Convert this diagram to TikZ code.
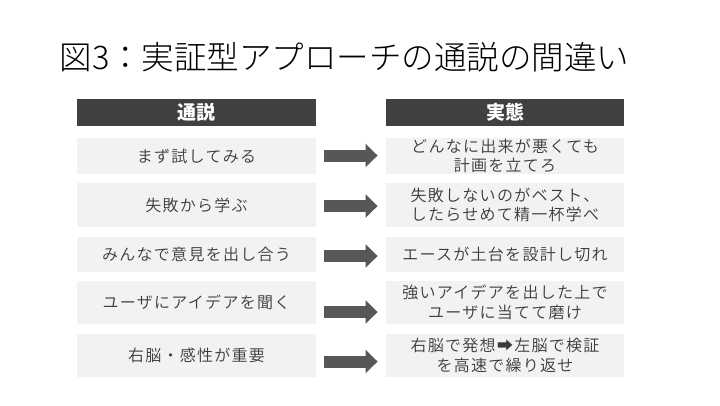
\documentclass[tikz,border=0pt]{standalone}
\usepackage{fontspec}
\setmainfont{Noto Sans CJK JP}
\newfontfamily\titlefont{Noto Sans CJK JP Light}
\newfontfamily\cellfont{Noto Sans CJK JP DemiLight}[LetterSpace=8]
\usetikzlibrary{positioning, arrows.meta, calc}
\definecolor{hdrgray}{HTML}{404040}
\definecolor{boxgray}{HTML}{F2F2F2}
\definecolor{arrgray}{HTML}{575757}
\definecolor{txtgray}{HTML}{3A3A3A}
\tikzset{
  header/.style={fill=hdrgray, text=white, inner sep=0pt,
    minimum width=238.5pt, minimum height=27pt,
    font=\fontsize{19}{22}\selectfont\bfseries},
  cell/.style={fill=boxgray, text=txtgray, inner sep=0pt, align=center,
    minimum width=238.5pt, font=\cellfont\fontsize{16}{19.5}\selectfont},
  bigarrow/.style={draw=arrgray, line width=12pt,
    -{Triangle[length=12pt, width=23pt]}},
}

\begin{document}
\begin{tikzpicture}[x=1pt, y=-1pt]
  \useasboundingbox (0,0) rectangle (720,405);
  \fill[white] (0,0) rectangle (720,405);

  \node[anchor=west, font=\titlefont\fontsize{32.5}{36}\selectfont] (title) at (56,57.5)
    {図3：実証型アプローチの通説の間違い};

  % column headers
  \node[header] (hdrL) at (196.5,112.5) {通説};
  \node[header] (hdrR) at (505,112.5) {実態};

  % common belief (left) and reality (right)
  \node[cell, minimum height=36pt] (l1) at (196.5,156) {まず試してみる};
  \node[cell, minimum height=44pt] (l2) at (196.5,205) {失敗から学ぶ};
  \node[cell, minimum height=35pt] (l3) at (196.5,254.5) {みんなで意見を出し合う};
  \node[cell, minimum height=43pt] (l4) at (196.5,302.5) {ユーザにアイデアを聞く};
  \node[cell, minimum height=43pt] (l5) at (196.5,355.5) {右脳・感性が重要};

  \node[cell, minimum height=36pt] (r1) at (505,156) {どんなに出来が悪くても\\計画を立てろ};
  \node[cell, minimum height=44pt] (r2) at (505,205) {失敗しないのがベスト、\\したらせめて精一杯学べ};
  \node[cell, minimum height=35pt] (r3) at (505,254.5) {エースが土台を設計し切れ};
  \node[cell, minimum height=43pt] (r4) at (505,302.5) {強いアイデアを出した上で\\ユーザに当てて磨け};
  \node[cell, minimum height=43pt] (r5) at (505,355.5) {右脳で発想➡左脳で検証\\を高速で繰り返せ};

  % arrows
  \draw[bigarrow] ($(l1.east)+(8,-0.5)$) -- ($(r1.west)+(-8,-0.5)$);
  \draw[bigarrow] ($(l2.east)+(8,1)$) -- ($(r2.west)+(-8,1)$);
  \draw[bigarrow] ($(l3.east)+(8,1.5)$) -- ($(r3.west)+(-8,1.5)$);
  \draw[bigarrow] ($(l4.east)+(8,9.5)$) -- ($(r4.west)+(-8,9.5)$);
  \draw[bigarrow] ($(l5.east)+(8,6)$) -- ($(r5.west)+(-8,6)$);
\end{tikzpicture}
\end{document}
